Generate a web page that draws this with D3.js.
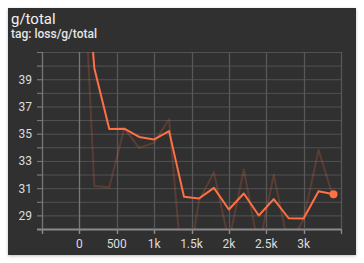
<!DOCTYPE html>
<html>
<head>
<meta charset="utf-8">
<script src="https://cdn.jsdelivr.net/npm/d3@7"></script>
<style>
  body { margin: 0; background: #fff; font-family: Roboto, "Noto Sans", sans-serif; }
  .card {
    position: absolute; left: 8px; top: 8px; width: 348px; height: 247px;
    background: #303030; box-shadow: 0 1px 3px rgba(0,0,0,0.25);
  }
  svg { position: absolute; left: 0; top: 0; }
</style>
</head>
<body>
<div class="card"></div>
<script>
var title = "g/total";
var subtitle = "tag: loss/g/total";

// steps and values
var steps = [0, 200, 400, 600, 800, 1000, 1200, 1400, 1600, 1800, 2000, 2200, 2400, 2600, 2800, 3000, 3200, 3400];
var rawValues = [54.2, 31.15, 31.07, 35.39, 33.96, 34.33, 36.07, 23.32, 30.06, 32.18, 27.06, 32.37, 26.56, 31.98, 26.69, 28.74, 33.80, 30.23];
var smoothedValues = [54.2, 39.8, 35.35, 35.37, 34.76, 34.58, 35.19, 30.36, 30.24, 31.02, 29.43, 30.61, 28.99, 30.19, 28.79, 28.77, 30.78, 30.56];

var xTicks = [-500, 0, 500, 1000, 1500, 2000, 2500, 3000, 3500];
var xTickLabels = ["", "0", "500", "1k", "1.5k", "2k", "2.5k", "3k", ""];
var yTicks = [28, 29, 30, 31, 32, 33, 34, 35, 36, 37, 38, 39, 40, 41];
var yTickLabels = ["", "29", "", "31", "", "33", "", "35", "", "37", "", "39", "", ""];

var orange = "#ff7043";

var svg = d3.select("body").append("svg")
  .attr("width", 364)
  .attr("height", 263);

svg.append("text")
  .attr("x", 11)
  .attr("y", 24)
  .attr("fill", "#f0f0f0")
  .style("font-size", "15px")
  .text(title);

svg.append("text")
  .attr("x", 11)
  .attr("y", 38)
  .attr("fill", "#e6e6e6")
  .style("font-size", "12px")
  .style("font-weight", 500)
  .text(subtitle);

var x = d3.scaleLinear().domain([-500, 3500]).range([42, 341]);
var y = d3.scaleLinear().domain([28, 41]).range([229, 52]);

var plot = svg.append("g");

// horizontal grid
plot.selectAll("line.hgrid")
  .data(yTicks)
  .enter()
    .append("line")
      .attr("class", "hgrid")
      .attr("x1", 37)
      .attr("x2", 341)
      .attr("y1", function(d) { return y(d) + 0.5; })
      .attr("y2", function(d) { return y(d) + 0.5; })
      .attr("stroke", function(d) { return d == 28 ? "#8a8a8a" : "#525252"; })
      .attr("stroke-width", function(d) { return d == 28 ? 2 : 1; });

// left tick marks are a bit brighter
plot.selectAll("line.ytick")
  .data(yTicks.slice(1))
  .enter()
    .append("line")
      .attr("x1", 37)
      .attr("x2", 42)
      .attr("y1", function(d) { return y(d) + 0.5; })
      .attr("y2", function(d) { return y(d) + 0.5; })
      .attr("stroke", "#7a7a7a");

// vertical grid
plot.selectAll("line.vgrid")
  .data(xTicks)
  .enter()
    .append("line")
      .attr("class", "vgrid")
      .attr("x1", function(d) { return Math.round(x(d)) + 0.5; })
      .attr("x2", function(d) { return Math.round(x(d)) + 0.5; })
      .attr("y1", 52)
      .attr("y2", function(d) { return d == 3500 ? 229 : 234; })
      .attr("stroke", function(d) { return (d == -500 || d == 0) ? "#777" : "#575757"; })
      .attr("stroke-width", 1.3);

plot.selectAll("line.xtick")
  .data(xTicks)
  .enter()
    .append("line")
      .attr("x1", function(d) { return Math.round(x(d)) + 0.5; })
      .attr("x2", function(d) { return Math.round(x(d)) + 0.5; })
      .attr("y1", 229)
      .attr("y2", 234)
      .attr("stroke", "#8a8a8a")
      .attr("stroke-width", 1.3);

plot.selectAll("text.ylab")
  .data(yTicks)
  .enter()
    .append("text")
      .attr("x", 32)
      .attr("y", function(d) { return y(d) + 4.5; })
      .attr("text-anchor", "end")
      .attr("fill", "#dcdcdc")
      .style("font-size", "12px")
      .text(function(d, i) { return yTickLabels[i]; });

plot.selectAll("text.xlab")
  .data(xTicks)
  .enter()
    .append("text")
      .attr("x", function(d) { return x(d); })
      .attr("y", 248)
      .attr("text-anchor", "middle")
      .attr("fill", "#dcdcdc")
      .style("font-size", "12px")
      .text(function(d, i) { return xTickLabels[i]; });

svg.append("clipPath")
  .attr("id", "clip")
  .append("rect")
    .attr("x", 42)
    .attr("y", 52)
    .attr("width", 300)
    .attr("height", 177);

var lineData = function(vals) {
  return steps.map(function(s, i) { return [s, vals[i]]; });
};

var line = d3.line()
  .x(function(d) { return x(d[0]); })
  .y(function(d) { return y(d[1]); });

var lines = svg.append("g").attr("clip-path", "url(#clip)");

lines.append("path")
  .datum(lineData(rawValues))
  .attr("d", line)
  .attr("fill", "none")
  .attr("stroke", orange)
  .attr("stroke-opacity", 0.2)
  .attr("stroke-width", 2)
  .attr("stroke-linejoin", "round");

lines.append("path")
  .datum(lineData(smoothedValues))
  .attr("d", line)
  .attr("fill", "none")
  .attr("stroke", orange)
  .attr("stroke-width", 2)
  .attr("stroke-linejoin", "round");

var last = steps.length - 1;
svg.append("circle")
  .attr("cx", x(steps[last]))
  .attr("cy", y(smoothedValues[last]))
  .attr("r", 4)
  .attr("fill", orange);
</script>
</body>
</html>
